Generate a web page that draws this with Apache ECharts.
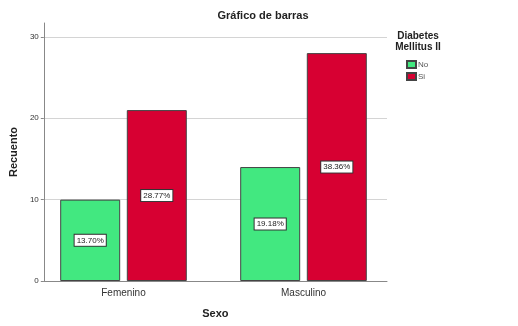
<!DOCTYPE html>
<html>
<head>
<meta charset="utf-8">
<script src="https://cdn.jsdelivr.net/npm/echarts@6/dist/echarts.min.js"></script>
<style>
  html, body { margin: 0; padding: 0; background: #fff; }
  #chart { width: 518px; height: 326px; }
</style>
</head>
<body>
<div id="chart"></div>
<script>
// Counts of cases by sex, split by type 2 diabetes status
const categories = ['Femenino', 'Masculino'];
const seriesNames = ['No', 'Si'];
const countsNo = [10, 14];
const countsSi = [21, 28];
const yTicks = [0, 10, 20, 30];

const total = countsNo.concat(countsSi).reduce((a, b) => a + b, 0);
const pct = v => (v / total * 100).toFixed(2) + '%';

const FONT = '"Liberation Sans", Arial, sans-serif';
const colors = ['#42e880', '#d70032'];
const Y_MAX = 31.7;

const labelStyle = {
  show: true,
  position: 'inside',
  formatter: p => pct(p.value),
  fontFamily: FONT,
  fontSize: 8,
  color: '#222',
  backgroundColor: '#fff',
  borderColor: '#333',
  borderWidth: 1,
  padding: [2, 2, 1, 2]
};

const chart = echarts.init(document.getElementById('chart'), null, { renderer: 'canvas' });
chart.setOption({
  animation: false,
  title: [
    {
      text: 'Gráfico de barras',
      left: 258, top: 5, textAlign: 'center',
      textStyle: { fontFamily: FONT, fontSize: 11, fontWeight: 'bold', color: '#222' }
    },
    {
      text: 'Diabetes\nMellitus II',
      left: 413, top: 26, textAlign: 'center',
      textStyle: { fontFamily: FONT, fontSize: 10, fontWeight: 'bold', color: '#222', lineHeight: 11 }
    }
  ],
  legend: {
    orient: 'vertical',
    left: 401, top: 55,
    itemWidth: 9, itemHeight: 7, itemGap: 3,
    icon: 'rect',
    data: seriesNames,
    textStyle: { fontFamily: FONT, fontSize: 8, color: '#555', padding: [0, 0, 0, -3] }
  },
  // grid 0: frame with axis lines and gridlines; grid 1: bars and category labels
  grid: [
    { left: 40, right: 131, top: 23, bottom: 45 },
    { left: 33.5, right: 124.5, top: 23, bottom: 45 }
  ],
  xAxis: [
    {
      type: 'category', gridIndex: 0,
      data: categories,
      name: 'Sexo',
      nameLocation: 'middle',
      nameGap: 27,
      nameTextStyle: { fontFamily: FONT, fontSize: 11, fontWeight: 'bold', color: '#222' },
      axisLine: { lineStyle: { color: '#888', width: 1 } },
      axisTick: { show: false },
      axisLabel: { show: false }
    },
    {
      type: 'category', gridIndex: 1,
      data: categories,
      axisLine: { show: false },
      axisTick: { show: false },
      axisLabel: { fontFamily: FONT, fontSize: 10, color: '#333', margin: 7 }
    }
  ],
  yAxis: [
    {
      type: 'value', gridIndex: 0,
      min: 0, max: Y_MAX, interval: 10,
      name: 'Recuento',
      nameLocation: 'middle',
      nameGap: 20,
      nameTextStyle: { fontFamily: FONT, fontSize: 11, fontWeight: 'bold', color: '#222' },
      axisLine: { show: true, lineStyle: { color: '#888', width: 1 } },
      axisTick: { show: true, length: 3, lineStyle: { color: '#888' } },
      axisLabel: {
        fontFamily: FONT, fontSize: 8, color: '#333', margin: 5,
        showMaxLabel: false,
        formatter: v => (yTicks.indexOf(v) >= 0 ? String(v) : '')
      },
      splitLine: { show: true, showMaxLine: false, lineStyle: { color: '#d4d4d4', width: 1 } }
    },
    {
      type: 'value', gridIndex: 1,
      min: 0, max: Y_MAX,
      show: false
    }
  ],
  series: [
    {
      name: seriesNames[0], type: 'bar', data: countsNo,
      xAxisIndex: 1, yAxisIndex: 1,
      barWidth: 60, barGap: '11%',
      itemStyle: { color: colors[0], borderColor: '#444', borderWidth: 1 },
      label: labelStyle
    },
    {
      name: seriesNames[1], type: 'bar', data: countsSi,
      xAxisIndex: 1, yAxisIndex: 1,
      barWidth: 60,
      itemStyle: { color: colors[1], borderColor: '#444', borderWidth: 1 },
      label: labelStyle
    }
  ]
});
</script>
</body>
</html>
